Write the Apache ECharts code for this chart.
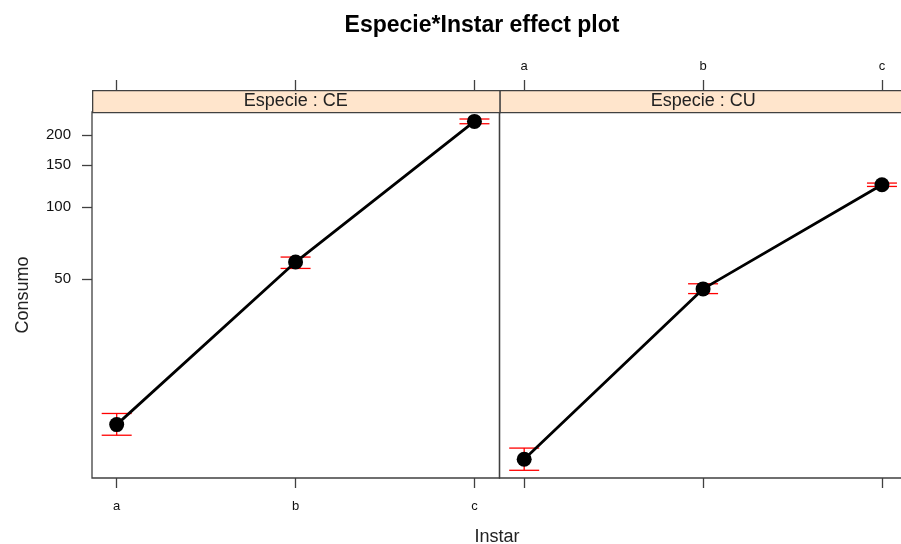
<!DOCTYPE html>
<html>
<head>
<meta charset="utf-8">
<script src="https://cdn.jsdelivr.net/npm/echarts@6/dist/echarts.min.js"></script>
<style>
  html, body { margin: 0; padding: 0; background: #fff; }
  #chart { width: 901px; height: 544px; }
</style>
</head>
<body>
<div id="chart"></div>
<script>
// Instar levels and the two Especie panels
const instar = ['a', 'b', 'c']
const especie = ['CE', 'CU']

// fitted Consumo and confidence bounds
const fitCE = [12.4, 59.0, 227.5]
const lowCE = [11.2, 55.5, 222.5]
const highCE = [13.8, 61.9, 232.8]

const fitCU = [8.9, 45.6, 123.9]
const lowCU = [8.0, 43.6, 121.9]
const highCU = [9.9, 47.9, 125.9]

const yTicks = [50, 100, 150, 200]

const lg = (v) => Math.log10(v)
const FONT = 'Liberation Sans, Arial, sans-serif'
const AXIS_COL = '#404040'

const panels = [
  { fit: fitCE, low: lowCE, high: highCE, left: 92 },
  { fit: fitCU, low: lowCU, high: highCU, left: 499.5 }
]
const panelW = 407.5

const chart = echarts.init(document.getElementById('chart'))

const grids = panels.map((p) => ({
  left: p.left, top: 112, width: panelW, height: 366,
  show: true, borderColor: AXIS_COL, borderWidth: 1.3,
  backgroundColor: 'transparent',
  outerBoundsMode: 'none'
}))

const xAxes = []
panels.forEach((p, i) => {
  // bottom axis: labels on the left panel only
  xAxes.push({
    type: 'value', gridIndex: i, position: 'bottom',
    min: 0.862, max: 3.14,
    axisLine: { show: false },
    splitLine: { show: false },
    axisTick: { show: true, inside: false, length: 10, customValues: [1, 2, 3],
      lineStyle: { color: AXIS_COL, width: 1.3 } },
    axisLabel: { show: i === 0, customValues: [1, 2, 3], margin: 22,
      fontFamily: FONT, fontSize: 13, color: '#111',
      formatter: (v) => instar[Math.round(v) - 1] }
  })
  // top axis: labels on the right panel only, sits above the strip
  xAxes.push({
    type: 'value', gridIndex: i, position: 'top', offset: 22,
    min: 0.862, max: 3.14,
    axisLine: { show: false },
    splitLine: { show: false },
    axisTick: { show: true, inside: false, length: 10, customValues: [1, 2, 3],
      lineStyle: { color: AXIS_COL, width: 1.3 } },
    axisLabel: { show: i === 1, customValues: [1, 2, 3], margin: 17,
      fontFamily: FONT, fontSize: 13, color: '#111',
      formatter: (v) => instar[Math.round(v) - 1] }
  })
})

const yAxes = panels.map((p, i) => ({
  type: 'value', gridIndex: i,
  min: lg(7.43), max: lg(249),
  name: i === 0 ? 'Consumo' : '',
  nameLocation: 'middle', nameGap: 60,
  nameTextStyle: { fontFamily: FONT, fontSize: 18, color: '#222' },
  axisLine: { show: false },
  splitLine: { show: false },
  axisTick: { show: i === 0, inside: false, length: 10, customValues: yTicks.map(lg),
    lineStyle: { color: AXIS_COL, width: 1.3 } },
  axisLabel: { show: i === 0, customValues: yTicks.map(lg), margin: 21,
    fontFamily: FONT, fontSize: 15, color: '#111',
    formatter: (v) => String(Math.round(Math.pow(10, v))) }
}))

const series = []
panels.forEach((p, i) => {
  series.push({
    type: 'custom', xAxisIndex: i * 2, yAxisIndex: i, z: 2,
    data: instar.map((k, j) => [j + 1, lg(p.low[j]), lg(p.high[j])]),
    renderItem: (params, api) => {
      const x = api.value(0)
      const lo = api.coord([x, api.value(1)])
      const hi = api.coord([x, api.value(2)])
      const w = 15
      const style = { stroke: '#ff0000', lineWidth: 1.3 }
      return {
        type: 'group',
        children: [
          { type: 'line', shape: { x1: lo[0], y1: lo[1], x2: hi[0], y2: hi[1] }, style },
          { type: 'line', shape: { x1: lo[0] - w, y1: lo[1], x2: lo[0] + w, y2: lo[1] }, style },
          { type: 'line', shape: { x1: hi[0] - w, y1: hi[1], x2: hi[0] + w, y2: hi[1] }, style }
        ]
      }
    }
  })
  series.push({
    type: 'line', xAxisIndex: i * 2, yAxisIndex: i, z: 3,
    data: instar.map((k, j) => [j + 1, lg(p.fit[j])]),
    symbol: 'circle', symbolSize: 15,
    itemStyle: { color: '#000' },
    lineStyle: { color: '#000', width: 2.8 },
    animation: false
  })
})

const graphics = []
panels.forEach((p, i) => {
  graphics.push({
    type: 'rect', left: p.left, top: 90, z: 10,
    shape: { x: 0, y: 0, width: panelW, height: 22 },
    style: { fill: '#ffe5cc', stroke: AXIS_COL, lineWidth: 1.3 }
  })
  graphics.push({
    type: 'text', z: 11,
    x: p.left + panelW / 2, y: 101,
    style: { text: 'Especie : ' + especie[i], fill: '#222',
      font: '18px ' + FONT, textAlign: 'center', textVerticalAlign: 'middle' }
  })
})
graphics.push({
  type: 'text', x: 497, y: 537,
  style: { text: 'Instar', fill: '#222', font: '18px ' + FONT,
    textAlign: 'center', textVerticalAlign: 'middle' }
})

const options = {
  backgroundColor: '#fff',
  animation: false,
  title: {
    text: 'Especie*Instar effect plot',
    left: 477, top: 9, textAlign: 'center',
    textStyle: { fontFamily: FONT, fontSize: 23, fontWeight: 'bold', color: '#000' }
  },
  grid: grids,
  xAxis: xAxes,
  yAxis: yAxes,
  series: series,
  graphic: graphics
}

chart.setOption(options)
</script>
</body>
</html>
